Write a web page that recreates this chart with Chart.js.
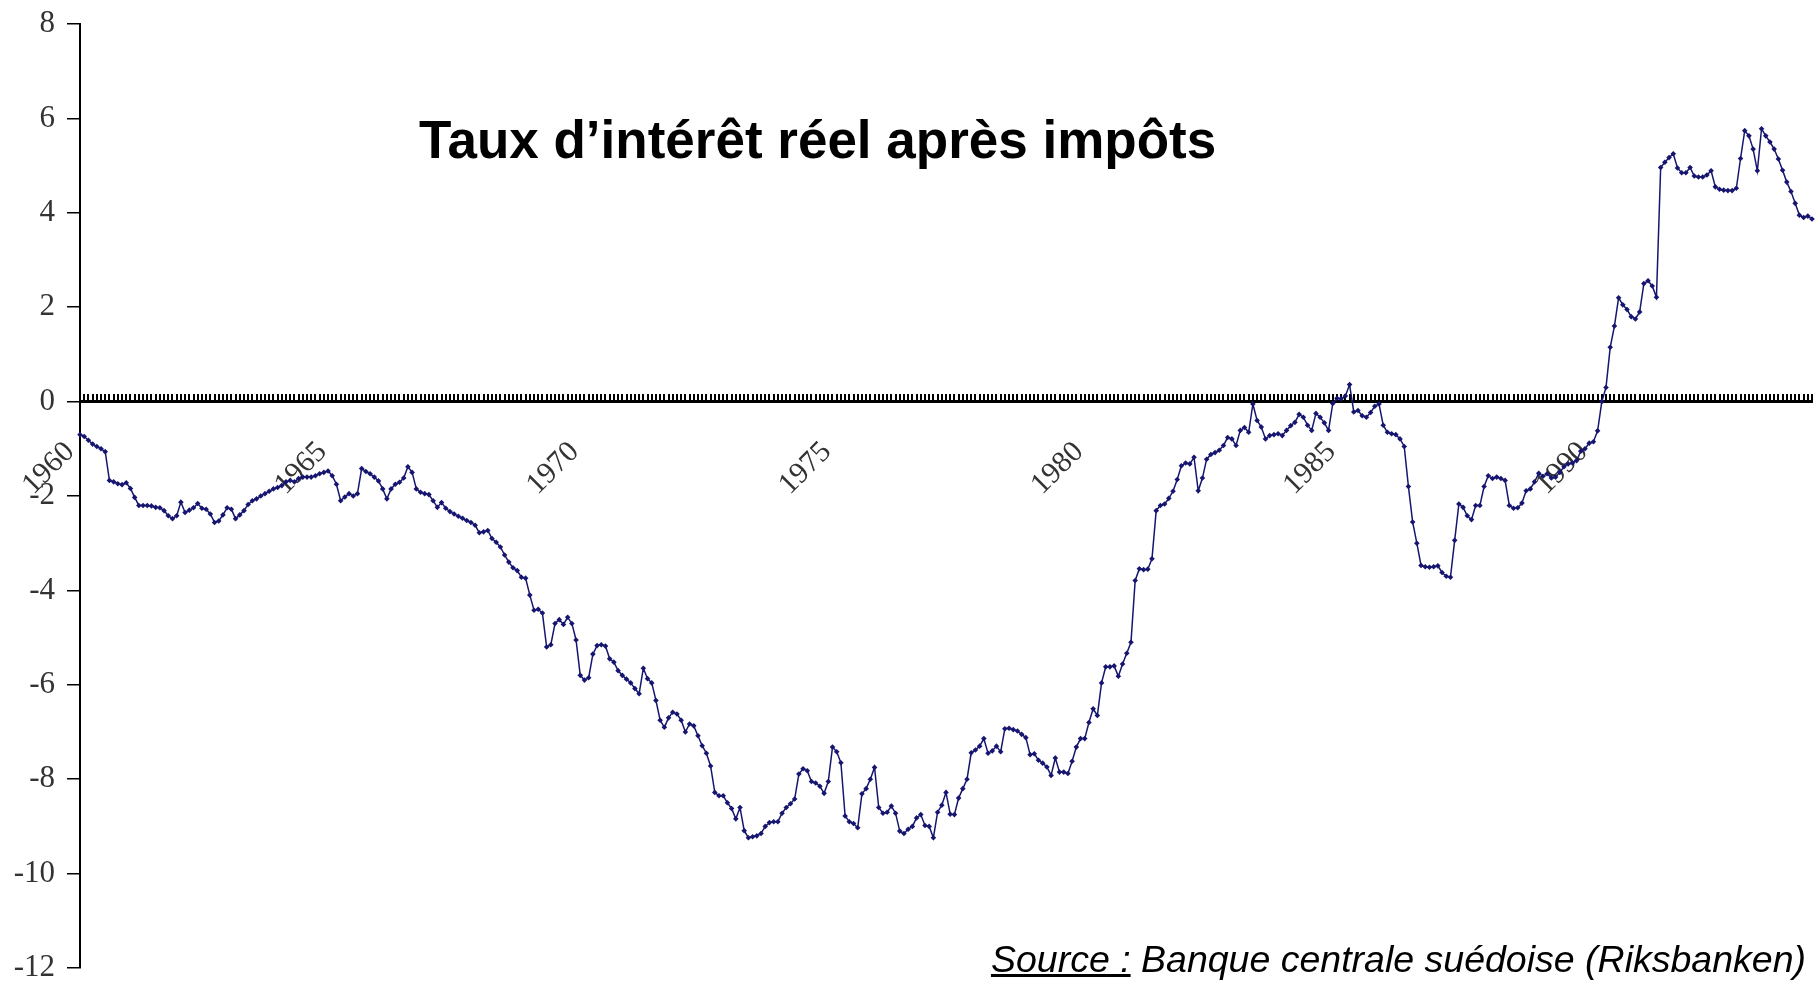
<!DOCTYPE html>
<html lang="fr">
<head>
<meta charset="utf-8">
<title>Taux d’intérêt réel après impôts</title>
<script src="https://cdn.jsdelivr.net/npm/chart.js@4/dist/chart.umd.min.js"></script>
<style>
    html, body { margin: 0; padding: 0; background: #fff; }
    #wrap { position: relative; width: 1816px; height: 981px; overflow: hidden; }
    #titre {
        position: absolute; left: 419px; top: 113px; margin: 0;
        font: bold 53px/1 "Liberation Sans", Arial, sans-serif; color: #000;
        white-space: nowrap;
    }
    #source {
        position: absolute; right: 10px; top: 941px; margin: 0;
        font: italic 37.5px/1 "Liberation Sans", Arial, sans-serif; color: #000;
        white-space: nowrap;
    }
</style>
</head>
<body>
<div id="wrap">
    <canvas id="chart"></canvas>
    <p id="titre">Taux d’intérêt réel après impôts</p>
    <p id="source"><u>Source :</u> Banque centrale suédoise (Riksbanken)</p>
</div>
<script>
"use strict";

// Monthly series, starting January 1960 (one line per year)
const anneeDebut = 1960;
const tauxReel = [
    -0.70, -0.74, -0.82, -0.90, -0.95, -1.00, -1.06, -1.67, -1.70, -1.74, -1.76, -1.72, // 1960
    -1.84, -2.03, -2.20, -2.20, -2.20, -2.21, -2.24, -2.25, -2.31, -2.42, -2.48, -2.42, // 1961
    -2.13, -2.35, -2.30, -2.25, -2.16, -2.26, -2.28, -2.38, -2.56, -2.53, -2.40, -2.25, // 1962
    -2.28, -2.48, -2.40, -2.31, -2.18, -2.10, -2.06, -2.00, -1.95, -1.90, -1.85, -1.82, // 1963
    -1.78, -1.70, -1.67, -1.70, -1.63, -1.60, -1.60, -1.60, -1.57, -1.53, -1.50, -1.47, // 1964
    -1.57, -1.75, -2.10, -2.02, -1.95, -2.00, -1.95, -1.42, -1.48, -1.53, -1.60, -1.68, // 1965
    -1.85, -2.06, -1.85, -1.75, -1.71, -1.62, -1.38, -1.50, -1.85, -1.92, -1.95, -1.97, // 1966
    -2.10, -2.24, -2.14, -2.26, -2.33, -2.38, -2.43, -2.47, -2.52, -2.56, -2.62, -2.78, // 1967
    -2.76, -2.73, -2.90, -2.98, -3.08, -3.25, -3.40, -3.52, -3.58, -3.72, -3.74, -4.10, // 1968
    -4.42, -4.40, -4.48, -5.20, -5.15, -4.70, -4.62, -4.72, -4.57, -4.70, -5.05, -5.80, // 1969
    -5.90, -5.85, -5.35, -5.17, -5.15, -5.18, -5.45, -5.52, -5.70, -5.80, -5.88, -5.96, // 1970
    -6.08, -6.19, -5.65, -5.87, -5.96, -6.33, -6.75, -6.90, -6.70, -6.58, -6.62, -6.75, // 1971
    -7.00, -6.83, -6.87, -7.08, -7.29, -7.45, -7.72, -8.28, -8.35, -8.35, -8.50, -8.62, // 1972
    -8.84, -8.60, -9.09, -9.24, -9.22, -9.20, -9.15, -9.00, -8.92, -8.90, -8.90, -8.72, // 1973
    -8.60, -8.52, -8.42, -7.89, -7.78, -7.82, -8.05, -8.08, -8.15, -8.30, -8.05, -7.32, // 1974
    -7.42, -7.65, -8.78, -8.90, -8.94, -9.03, -8.31, -8.20, -8.00, -7.75, -8.60, -8.72, // 1975
    -8.70, -8.57, -8.72, -9.10, -9.15, -9.06, -9.00, -8.82, -8.75, -8.98, -9.00, -9.24, // 1976
    -8.70, -8.55, -8.28, -8.74, -8.75, -8.40, -8.20, -8.00, -7.44, -7.38, -7.30, -7.14, // 1977
    -7.45, -7.40, -7.30, -7.42, -6.93, -6.92, -6.95, -6.98, -7.05, -7.12, -7.48, -7.46, // 1978
    -7.60, -7.66, -7.74, -7.92, -7.55, -7.85, -7.85, -7.88, -7.62, -7.32, -7.14, -7.14, // 1979
    -6.80, -6.51, -6.65, -5.96, -5.62, -5.62, -5.60, -5.82, -5.56, -5.33, -5.10, -3.79, // 1980
    -3.54, -3.56, -3.55, -3.33, -2.31, -2.20, -2.17, -2.05, -1.90, -1.65, -1.36, -1.30, // 1981
    -1.32, -1.18, -1.89, -1.62, -1.22, -1.12, -1.08, -1.03, -0.93, -0.76, -0.79, -0.93, // 1982
    -0.61, -0.55, -0.65, -0.05, -0.40, -0.54, -0.79, -0.72, -0.70, -0.68, -0.72, -0.61, // 1983
    -0.51, -0.44, -0.27, -0.33, -0.50, -0.61, -0.25, -0.33, -0.45, -0.61, -0.04,  0.07, // 1984
     0.06,  0.12,  0.36, -0.22, -0.19, -0.30, -0.33, -0.23, -0.10, -0.05, -0.50, -0.65, // 1985
    -0.68, -0.70, -0.79, -0.95, -1.80, -2.55, -3.00, -3.47, -3.50, -3.51, -3.50, -3.48, // 1986
    -3.62, -3.70, -3.72, -2.94, -2.17, -2.24, -2.42, -2.50, -2.20, -2.20, -1.80, -1.57, // 1987
    -1.63, -1.60, -1.63, -1.67, -2.20, -2.26, -2.25, -2.15, -1.89, -1.85, -1.70, -1.52, // 1988
    -1.58, -1.53, -1.62, -1.60, -1.50, -1.38, -1.32, -1.30, -1.25, -1.05, -1.00, -0.88, // 1989
    -0.85, -0.62,  0.00,  0.30,  1.15,  1.60,  2.20,  2.05,  1.95,  1.80,  1.75,  1.90, // 1990
     2.50,  2.56,  2.45,  2.21,  4.96,  5.07,  5.17,  5.25,  4.95,  4.85,  4.85,  4.96, // 1991
     4.78,  4.76,  4.76,  4.80,  4.89,  4.55,  4.50,  4.48,  4.47,  4.47,  4.52,  5.15, // 1992
     5.74,  5.63,  5.35,  4.89,  5.78,  5.63,  5.50,  5.35,  5.14,  4.90,  4.65,  4.45, // 1993
     4.20,  3.95,  3.90,  3.93,  3.87                                                    // 1994
];

// Years shown on the category axis
const anneesAffichees = ['1960', '1965', '1970', '1975', '1980', '1985', '1990'];

// Month categories (YYYY-MM)
const moisLabels = tauxReel.map(function (v, i) {
    const annee = anneeDebut + Math.floor(i / 12);
    const mois = String(i % 12 + 1).padStart(2, '0');
    return annee + '-' + mois;
});

const couleurSerie = '#161670';
const policeSerif = '"Liberation Serif", "Times New Roman", serif';

const canvas = document.getElementById('chart');
canvas.width = 1816;
canvas.height = 981;

const chart = new Chart(canvas.getContext('2d'), {
    type: 'line',
    data: {
        labels: moisLabels,
        datasets: [{
            label: 'Taux d’intérêt réel après impôts',
            data: tauxReel,
            borderColor: couleurSerie,
            backgroundColor: couleurSerie,
            borderWidth: 1.5,
            pointStyle: 'rectRot',
            pointRadius: 2.8,
            pointBorderWidth: 0,
            tension: 0
        }]
    },
    options: {
        responsive: false,
        animation: false,
        devicePixelRatio: 1,
        layout: { padding: { top: 24, bottom: 13, left: 0, right: 0 } },
        plugins: {
            legend: { display: false },
            tooltip: { enabled: false }
        },
        scales: {
            x: {
                position: { y: 0 },
                offset: false,
                grid: {
                    drawOnChartArea: false,
                    drawTicks: true,
                    tickLength: -9,
                    color: '#000',
                    lineWidth: 2
                },
                border: { display: true, color: '#000', width: 3 },
                ticks: {
                    autoSkip: false,
                    minRotation: 45,
                    maxRotation: 45,
                    padding: 42,
                    labelOffset: -10,
                    color: '#333',
                    font: { family: policeSerif, size: 30 },
                    callback: function (value, index) {
                        if (index % 12 !== 0) return '';
                        const annee = String(anneeDebut + index / 12);
                        return anneesAffichees.includes(annee) ? annee : '';
                    }
                },
                afterFit: function (scale) {
                    // axis sits on the zero line, keep it out of the layout
                    scale.height = 0;
                    scale.paddingLeft = 0;
                    scale.paddingRight = 0;
                }
            },
            y: {
                min: -12,
                max: 8,
                ticks: {
                    stepSize: 2,
                    padding: 12,
                    color: '#333',
                    font: { family: policeSerif, size: 31 }
                },
                grid: {
                    drawOnChartArea: false,
                    tickLength: 13,
                    color: '#000',
                    lineWidth: 1.5
                },
                border: { color: '#000', width: 2 },
                afterFit: function (scale) {
                    scale.width = 80;
                    scale.paddingTop = 0;
                    scale.paddingBottom = 0;
                }
            }
        }
    }
});
</script>
</body>
</html>
